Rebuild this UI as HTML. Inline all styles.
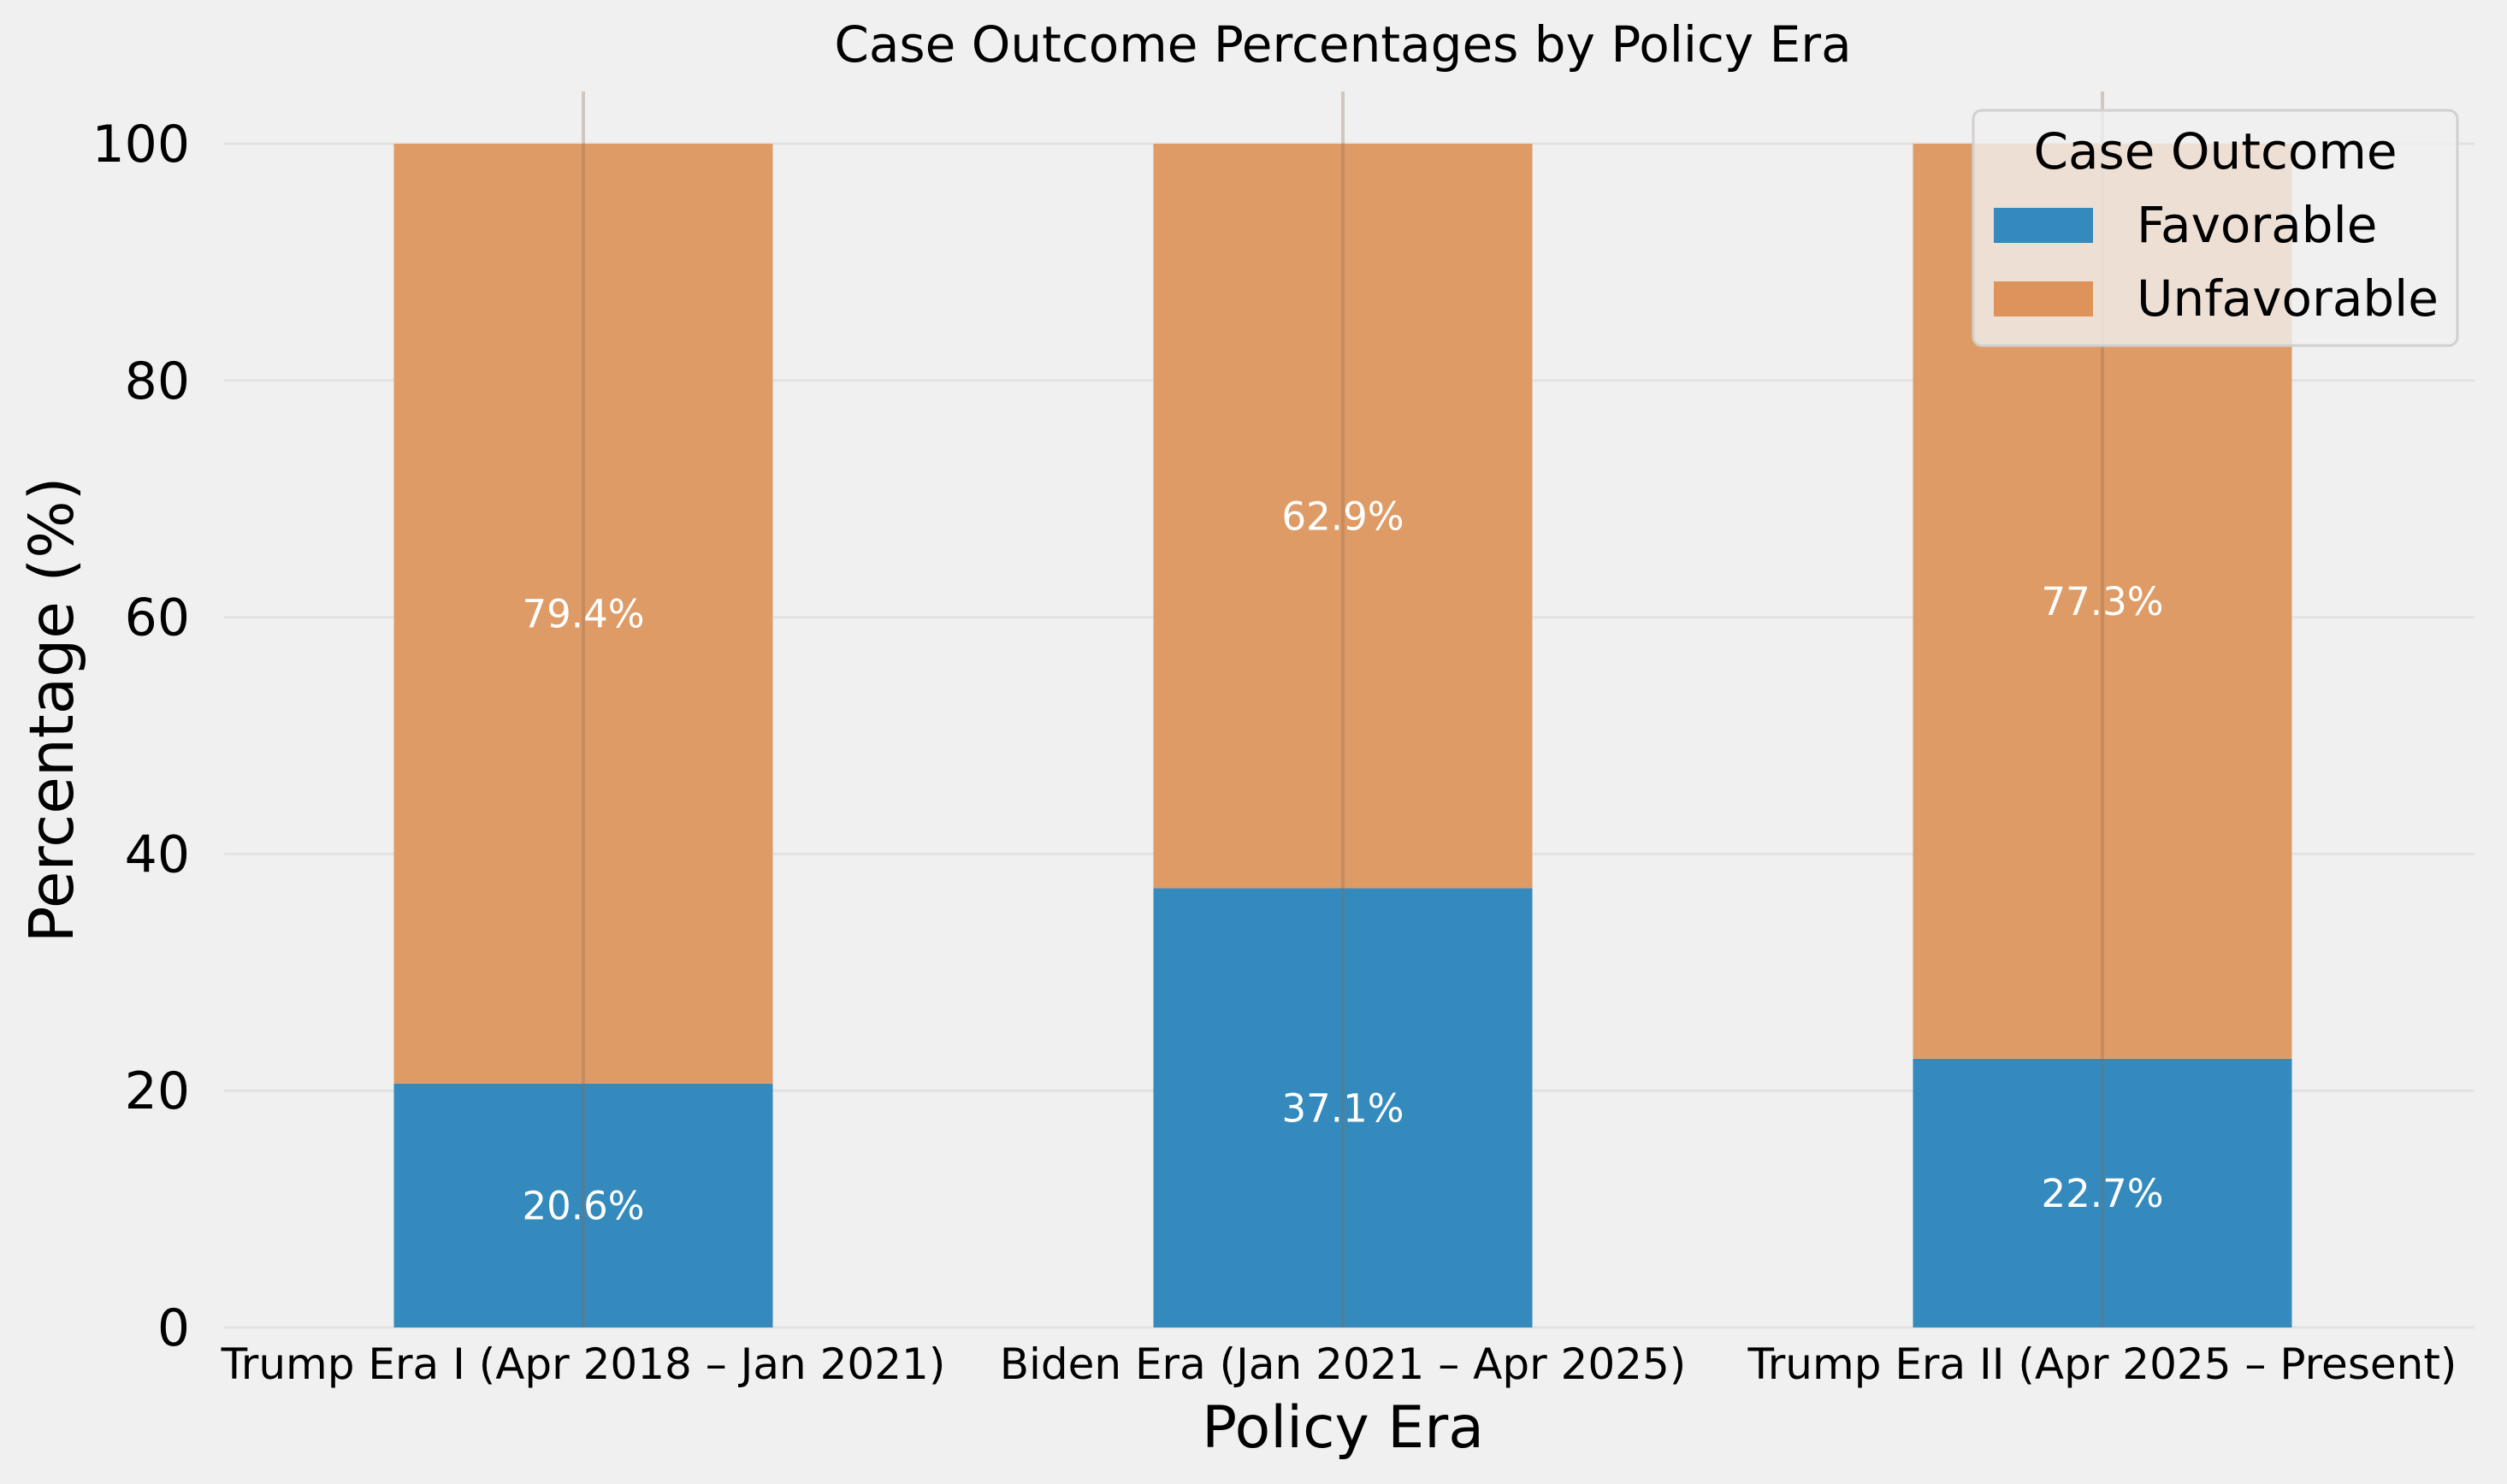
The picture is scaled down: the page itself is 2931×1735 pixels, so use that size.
<!DOCTYPE html>
<html><head><meta charset="utf-8"><style>
html,body{margin:0;padding:0;background:#f0f0f0;}
svg{display:block;font-family:"DejaVu Sans","Liberation Sans",sans-serif;}
</style></head><body>
<svg id="chart" width="2931" height="1735" viewBox="0 0 2931 1735">
<rect x="0" y="0" width="2931" height="1735" fill="#f0f0f0"/>
<g id="grid"></g>
<g id="bars"></g>
<g id="vgrid"></g>
<g id="labels"></g>
<g id="axes"></g>
<text x="1570" y="72" font-size="58" text-anchor="middle" fill="#000">Case Outcome Percentages by Policy Era</text>
<text x="1570" y="1692" font-size="68" text-anchor="middle" fill="#000">Policy Era</text>
<text transform="translate(85,830) rotate(-90)" font-size="71" text-anchor="middle" fill="#000">Percentage (%)</text>
<g>
<rect x="2307" y="129" width="566" height="275" rx="10" fill="#f0f0f0" fill-opacity="0.8" stroke="#d0d0d0" stroke-width="3"/>
<text x="2590" y="197" font-size="58" text-anchor="middle" fill="#000">Case Outcome</text>
<rect x="2331" y="243" width="116" height="41" fill="#348abd"/>
<text x="2498" y="283" font-size="58" fill="#000">Favorable</text>
<rect x="2331" y="329" width="116" height="41" fill="#de935b"/>
<text x="2498" y="369" font-size="58" fill="#000">Unfavorable</text>
</g>
</svg>
<script>
const categories = ["Trump Era I (Apr 2018 \u2013 Jan 2021)", "Biden Era (Jan 2021 \u2013 Apr 2025)", "Trump Era II (Apr 2025 \u2013 Present)"];
const favorable = [20.6, 37.1, 22.7];
const unfavorable = [79.4, 62.9, 77.3];
const yTicks = [0, 20, 40, 60, 80, 100];

const NS = "http://www.w3.org/2000/svg";
const plotL = 262, plotR = 2893, y0 = 1552, y100 = 168;
const yScale = v => y0 - (v / 100) * (y0 - y100);
const step = 888;
const xCenter = i => 682 + i * step;
const barW = 443;
function mk(tag, attrs, parent, txt) {
  const e = document.createElementNS(NS, tag);
  for (const k in attrs) e.setAttribute(k, attrs[k]);
  if (txt !== undefined) e.textContent = txt;
  parent.appendChild(e);
  return e;
}
const grid = document.getElementById('grid');
const bars = document.getElementById('bars');
const vgrid = document.getElementById('vgrid');
const labels = document.getElementById('labels');
const axes = document.getElementById('axes');

yTicks.forEach(t => {
  const y = yScale(t);
  const l = mk('line', {x1: plotL, x2: plotR, y1: y, y2: y, stroke: '#e2e2e2', 'stroke-width': 3}, grid);
  
  
  const tx = mk('text', {x: 222, y: y + 21, 'font-size': 60, 'text-anchor': 'end', fill: '#000'}, axes, String(t));
  
  
});

categories.forEach((c, i) => {
  const cx = xCenter(i);
  const x = cx - barW / 2;
  const fy = yScale(favorable[i]);
  const b1 = mk('rect', {x: x, y: fy, width: barW, height: y0 - fy, fill: '#348abd'}, bars);
  
  
  const uy = yScale(favorable[i] + unfavorable[i]);
  const b2 = mk('rect', {x: x, y: uy, width: barW, height: fy - uy, fill: '#de9b66'}, bars);
  
  

  const vl = mk('line', {x1: cx, x2: cx, y1: 107, y2: y0, stroke: '#8a6a50', 'stroke-opacity': 0.3, 'stroke-width': 4}, vgrid);
  
  

  const l1 = mk('text', {x: cx, y: yScale(favorable[i] / 2) + 16, 'font-size': 45, 'text-anchor': 'middle', fill: '#fff'}, labels, favorable[i].toFixed(1) + '%');
  
  
  const l2 = mk('text', {x: cx, y: yScale(favorable[i] + unfavorable[i] / 2) + 16, 'font-size': 45, 'text-anchor': 'middle', fill: '#fff'}, labels, unfavorable[i].toFixed(1) + '%');
  
  

  const xl = mk('text', {x: cx, y: 1612, 'font-size': 50, 'text-anchor': 'middle', fill: '#000'}, axes, c);
  
  
});
</script>
</body></html>
